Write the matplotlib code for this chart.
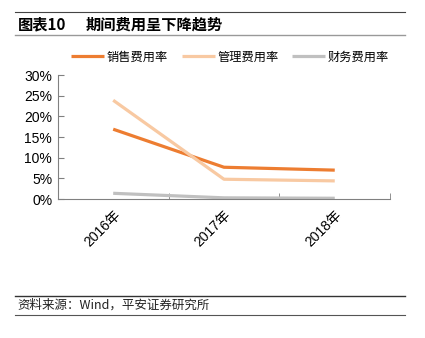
import matplotlib.pyplot as plt
from matplotlib.lines import Line2D

plt.rcParams['font.family'] = ['Liberation Sans', 'Noto Sans CJK SC']

# data
years = ['2016年', '2017年', '2018年']
sales_rate = [16.9, 7.7, 7.0]
admin_rate = [23.9, 4.8, 4.4]
finance_rate = [1.4, 0.3, 0.2]
series_names = ['销售费用率', '管理费用率', '财务费用率']
colors = ['#ED7D31', '#F8C9A2', '#C0C0C0']

fig = plt.figure(figsize=(4.25, 3.38), dpi=100)
ax = fig.add_axes([0.136, 0.411, 0.782, 0.367])

x = range(len(years))
for vals, name, c in zip([sales_rate, admin_rate, finance_rate], series_names, colors):
    ax.plot(x, vals, color=c, linewidth=2.3, label=name, solid_capstyle='butt')

ax.set_xlim(-0.5, 2.5)
ax.set_ylim(0, 30)
ax.set_yticks([0, 5, 10, 15, 20, 25, 30])
ax.set_yticklabels([f'{v}%' for v in range(0, 31, 5)], fontsize=10)
ax.set_xticks(list(x))
ax.set_xticklabels(years, rotation=45, ha='right', rotation_mode='anchor', fontsize=10)
ax.tick_params(axis='x', length=0, pad=6)
ax.set_xticks([0.5, 1.5, 2.5], minor=True)
ax.tick_params(axis='x', which='minor', direction='in', length=4, color='#808080')
ax.tick_params(axis='y', direction='in', length=4, color='#808080', pad=4)

for s in ['top', 'right']:
    ax.spines[s].set_visible(False)
for s in ['left', 'bottom']:
    ax.spines[s].set_color('#808080')
    ax.spines[s].set_linewidth(0.8)

fig.legend(loc='center', bbox_to_anchor=(0.541, 0.83), ncol=3, frameon=False,
           fontsize=8.8, handlelength=2.7, columnspacing=1.1, handletextpad=0.2)

# title block
fig.text(0.042, 0.927, '图表10', fontsize=11, fontweight='bold',
         family=['Noto Sans CJK SC'], va='center')
fig.text(0.202, 0.927, '期间费用呈下降趋势', fontsize=11, fontweight='bold',
         family=['Noto Sans CJK SC'], va='center')
fig.add_artist(Line2D([0.035, 0.953], [0.897, 0.897], color='#999999', linewidth=1))
fig.add_artist(Line2D([0.035, 0.953], [0.965, 0.965], color='#444444', linewidth=0.8))

# source block
fig.add_artist(Line2D([0.035, 0.953], [0.125, 0.125], color='#333333', linewidth=1))
fig.add_artist(Line2D([0.035, 0.953], [0.068, 0.068], color='#555555', linewidth=0.8))
fig.text(0.042, 0.097, '资料来源：Wind，平安证券研究所', fontsize=9, style='italic',
         family=['Noto Sans CJK SC'], va='center', color='#222222')

fig.savefig('out.png', dpi=100)
